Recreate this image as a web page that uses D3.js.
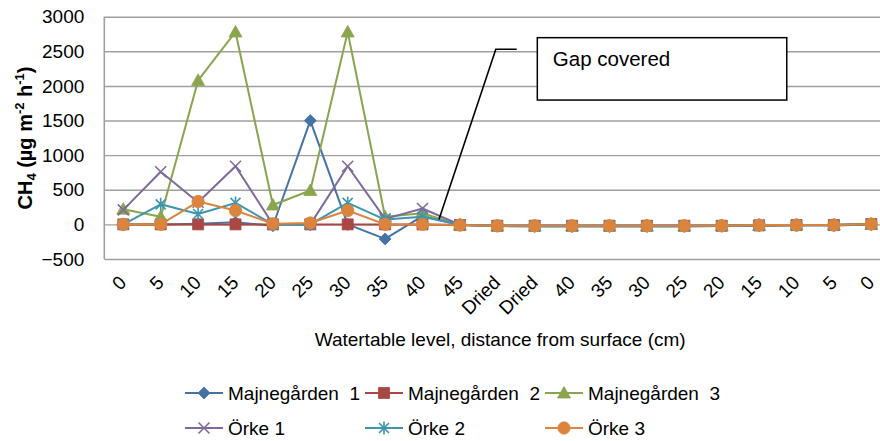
<!DOCTYPE html>
<html><head><meta charset="utf-8">
<script src="https://cdn.jsdelivr.net/npm/d3@7"></script>
<style>
body{margin:0;background:#fff}
svg{display:block;font-family:"Liberation Sans",Arial,Helvetica,sans-serif}
</style>
</head><body>
<svg id="c" width="880" height="441"></svg>
<script>
// ---------- data ----------
const categories = ["0","5","10","15","20","25","30","35","40","45","Dried","Dried","40","35","30","25","20","15","10","5","0"];
const seriesNames = ["Majnegården  1","Majnegården  2","Majnegården  3","Örke 1","Örke 2","Örke 3"];
const majnegarden1 = [0, 0, 10, 30, -20, 1500, 0, -210, 120, -10, -25, -30, -30, -30, -30, -30, -25, -20, -15, -15, 0];
const majnegarden2 = [0, 0, 0, 0, 0, 0, 0, 0, 0, -10, -20, -20, -20, -20, -20, -20, -20, -15, -10, -10, 5];
const majnegarden3 = [220, 110, 2080, 2780, 280, 490, 2780, 110, 160, -10, -25, -25, -25, -25, -25, -25, -20, -15, -10, -10, 0];
const orke1 = [210, 760, 320, 840, 0, 0, 840, 80, 230, -5, -20, -20, -20, -20, -20, -20, -20, -10, -10, -10, 5];
const orke2 = [0, 290, 150, 310, 0, 0, 310, 70, 110, -5, -20, -20, -20, -20, -20, -20, -20, -10, -10, -10, 5];
const orke3 = [0, 0, 330, 200, 10, 20, 200, 0, 0, -10, -20, -20, -20, -20, -20, -20, -20, -10, -10, -10, 5];
const seriesValues = [majnegarden1, majnegarden2, majnegarden3, orke1, orke2, orke3];
const yTicks = [-500, 0, 500, 1000, 1500, 2000, 2500, 3000];
const colors = ["#4572A7", "#AA4643", "#89A54E", "#80699B", "#3D96AE", "#DB843D"];
const markerTypes = ["diamond", "square", "triangle", "times", "asterisk", "circle"];
const xTitle = "Watertable level, distance from surface (cm)";
const annotationText = "Gap covered";
// annotation anchor in data space: [category index, value]
const annotationPointer = [[8.44, 72], [9.96, 2530], [10.52, 2530]];
const annotationBox = [[11.07, 2697], [17.74, 1796]];

// ---------- layout ----------
const svg = d3.select("#c");
const plotLeft = 104.3, plotRight = 890;
const x = d3.scaleLinear().domain([0, categories.length - 1]).range([123.3, 871.3]);
const y = d3.scaleLinear().domain([-500, 3000]).range([259, 16.7]);

// gridlines + y labels
const gy = svg.append("g").attr("transform", `translate(${plotLeft},0)`)
  .call(d3.axisLeft(y).tickValues(yTicks).tickSize(-(plotRight - plotLeft)).tickPadding(20).tickFormat(d3.format("d")));
gy.select(".domain").remove();
gy.selectAll(".tick line").attr("stroke", "#a0a0a0").attr("stroke-width", 1.4);
gy.selectAll(".tick text").attr("font-size", 19).attr("fill", "#000").attr("font-family", "Liberation Sans, Arial, sans-serif");
svg.append("line").attr("x1", plotLeft).attr("x2", plotLeft).attr("y1", y(3000)).attr("y2", y(-500))
  .attr("stroke", "#a0a0a0").attr("stroke-width", 1.6);

// x labels
const gx = svg.append("g").attr("transform", `translate(0,${y(-500)})`)
  .call(d3.axisBottom(x).tickValues(d3.range(categories.length)).tickSize(0).tickFormat(i => categories[i]));
gx.select(".domain").remove();
gx.selectAll(".tick text")
  .attr("font-size", 19).attr("fill", "#000").attr("font-family", "Liberation Sans, Arial, sans-serif")
  .attr("text-anchor", "end").attr("x", 0).attr("y", 0).attr("dy", "0.35em")
  .attr("transform", "translate(-1,20) rotate(-45)");

// axis titles
svg.append("text").attr("x", (plotLeft + 880 + 12) / 2 + 2).attr("y", 346)
  .attr("text-anchor", "middle").attr("font-size", 19).text(xTitle);

const yt = svg.append("text").attr("transform", "translate(32,138) rotate(-90)")
  .attr("text-anchor", "middle").attr("font-size", 20).attr("font-weight", "bold");
yt.append("tspan").text("CH");
yt.append("tspan").attr("font-size", 13).attr("dy", 4).text("4");
yt.append("tspan").attr("dy", -4).text(" (µg m");
yt.append("tspan").attr("font-size", 13).attr("dy", -8).text("-2");
yt.append("tspan").attr("dy", 8).text(" h");
yt.append("tspan").attr("font-size", 13).attr("dy", -8).text("-1");
yt.append("tspan").attr("dy", 8).text(")");

// markers
function markerPath(type) {
  switch (type) {
    case "diamond": return "M0,-6L6,0L0,6L-6,0Z";
    case "square": return "M-5.5,-5.5H5.5V5.5H-5.5Z";
    case "triangle": return "M0,-6.5L6.5,5L-6.5,5Z";
    case "times": return "M-5.5,-5.5L5.5,5.5M-5.5,5.5L5.5,-5.5";
    case "asterisk": return "M-5,-5L5,5M-5,5L5,-5M0,-6.5L0,6.5";
    case "circle": return d3.symbol(d3.symbolCircle, Math.PI * 38)();
  }
}
function drawMarker(g, type, color) {
  const stroked = type === "times" || type === "asterisk";
  g.append("path").attr("d", markerPath(type))
    .attr("fill", stroked ? "none" : color)
    .attr("stroke", color).attr("stroke-width", stroked ? 1.6 : 0.8);
}

// series
const line = d3.line().x((d, i) => x(i)).y(d => y(d));
seriesValues.forEach((vals, s) => {
  const g = svg.append("g");
  g.append("path").attr("d", line(vals)).attr("fill", "none")
    .attr("stroke", colors[s]).attr("stroke-width", 2).attr("stroke-linejoin", "round");
  vals.forEach((v, i) => {
    const mg = g.append("g").attr("transform", `translate(${x(i)},${y(v)})`);
    drawMarker(mg, markerTypes[s], colors[s]);
  });
});

// annotation
svg.append("path")
  .attr("d", d3.line().x(d => x(d[0])).y(d => y(d[1]))(annotationPointer))
  .attr("fill", "none").attr("stroke", "#000").attr("stroke-width", 1.6);
const bx0 = x(annotationBox[0][0]), by0 = y(annotationBox[0][1]);
const bx1 = x(annotationBox[1][0]), by1 = y(annotationBox[1][1]);
svg.append("rect").attr("x", bx0).attr("y", by0).attr("width", bx1 - bx0).attr("height", by1 - by0)
  .attr("fill", "#fff").attr("stroke", "#000").attr("stroke-width", 1.5);
svg.append("text").attr("x", bx0 + 15.5).attr("y", by0 + 28).attr("font-size", 20.5).text(annotationText);

// legend
seriesNames.forEach((name, s) => {
  const col = s % 3, row = Math.floor(s / 3);
  const lx = 185 + col * 180, ly = 393 + row * 35;
  const g = svg.append("g").attr("transform", `translate(${lx},${ly})`);
  g.append("line").attr("x1", 0).attr("x2", 38).attr("stroke", colors[s]).attr("stroke-width", 2);
  const mg = g.append("g").attr("transform", "translate(19,0)");
  drawMarker(mg, markerTypes[s], colors[s]);
  g.append("text").attr("x", 43).attr("dy", "0.36em").attr("font-size", 19)
    .style("white-space", "pre").text(name);
});
</script>
</body></html>
